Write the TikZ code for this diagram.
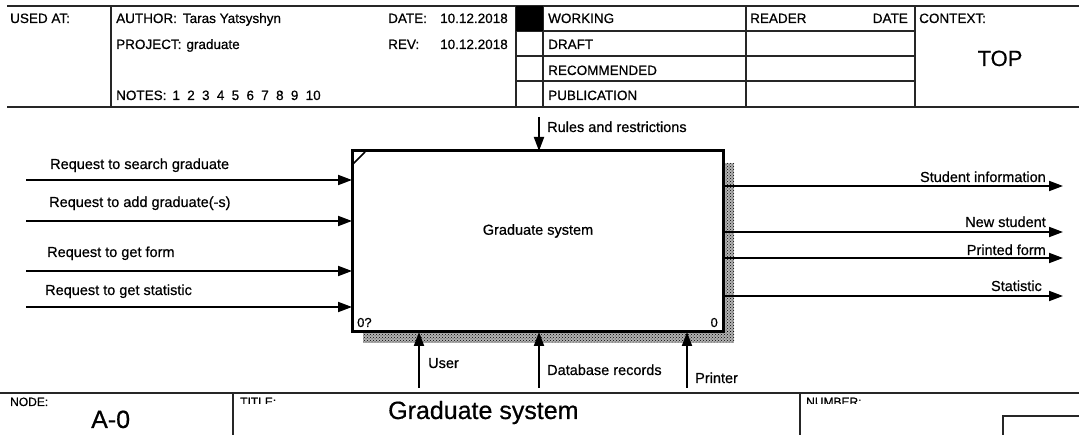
\documentclass[tikz,border=0pt]{standalone}
\usepackage{fontspec}
\setmainfont{Liberation Sans}[FakeBold=0.6]
\usetikzlibrary{arrows.meta,patterns}
\begin{document}
\begin{tikzpicture}[x=1pt,y=-1pt,
  frame/.style={line width=1.7pt, draw=black!85},
  ftext/.style={anchor=base west, inner sep=0, font=\fontsize{13.5}{16}\selectfont},
  fright/.style={anchor=base east, inner sep=0, font=\fontsize{13.5}{16}\selectfont},
  small/.style={anchor=base west, inner sep=0, font=\fontsize{12}{13}\selectfont},
  lbl/.style={anchor=base west, inner sep=0, font=\fontsize{14.5}{17}\selectfont},
  rlbl/.style={anchor=base east, inner sep=0, font=\fontsize{14.5}{17}\selectfont},
  big/.style={anchor=base west, inner sep=0, font=\fontsize{25}{28}\selectfont},
  arr/.style={line width=1.9pt, -{Triangle[length=14pt,width=10pt]}},
  shadow/.style={fill=gray!60, postaction={pattern=crosshatch dots, pattern color=black}},
  boxstyle/.style={draw, line width=3pt, fill=white, minimum width=371pt, minimum height=181pt, inner sep=0, outer sep=0}
]
\useasboundingbox (0,0) rectangle (1079,435);

% ---------- top frame ----------
\draw[frame] (7,6) -- (1079,6);
\draw[frame] (7,107) -- (1079,107);
\foreach \x in {111,516,543,746,915} \draw[frame] (\x,6) -- (\x,107);
\foreach \y in {31,56,81} \draw[frame] (516,\y) -- (915,\y);
\fill (516,6) rectangle (543,31);

\node[ftext] (usedat) at (10,23) {USED AT:};
\node[ftext] (author) at (116,23) {AUTHOR:\hspace{6pt}Taras Yatsyshyn};
\node[ftext] (project) at (116,49) {PROJECT:\hspace{5pt}graduate};
\node[ftext] (notes) at (116,100) {NOTES:\hspace{6pt}1\hspace{7.3pt}2\hspace{7.3pt}3\hspace{7.3pt}4\hspace{7.3pt}5\hspace{7.3pt}6\hspace{7.3pt}7\hspace{7.3pt}8\hspace{7.3pt}9\hspace{7.3pt}10};
\node[ftext] (datel) at (388,23) {DATE:};
\node[ftext] (datev) at (440,23) {10.12.2018};
\node[ftext] (revl) at (388,49) {REV:};
\node[ftext] (revv) at (440,49) {10.12.2018};
\node[ftext] (working) at (548,23) {WORKING};
\node[ftext] (draft) at (548,49) {DRAFT};
\node[ftext] (recommended) at (548,75) {RECOMMENDED};
\node[ftext] (publication) at (548,100) {PUBLICATION};
\node[ftext] (reader) at (750,23) {READER};
\node[fright] (rdate) at (908,23) {DATE};
\node[ftext] (context) at (919,23) {CONTEXT:};
\node[anchor=base, inner sep=0, font=\fontsize{22}{26}\selectfont] (top) at (1000,66) {TOP};

% ---------- box ----------
\path[shadow] (723,163) rectangle (734,343);
\path[shadow] (363,332) rectangle (734,343);
\node[boxstyle] (box) at (537.5,241.5) {};
\draw[line width=1.5pt] (353,164) -- (365,152);
\node[anchor=center, inner sep=0, font=\fontsize{14.5}{17}\selectfont] (boxlabel) at (538,231) {Graduate system};
\node[anchor=base west, inner sep=0, font=\fontsize{13}{15}\selectfont] (cnum) at (357,327) {0?};
\node[anchor=base east, inner sep=0, font=\fontsize{13}{15}\selectfont] (nnum) at (718,327) {0};

% ---------- inputs ----------
\coordinate (i1) at (26,180);
\coordinate (i2) at (26,221);
\coordinate (i3) at (26,271);
\coordinate (i4) at (26,307);
\foreach \i in {i1,i2,i3,i4} \draw[arr] (\i) -- (box.west |- \i);
\node[lbl] (li1) at (50,169) {Request to search graduate};
\node[lbl] (li2) at (49,207) {Request to add graduate(-s)};
\node[lbl] (li3) at (47,257) {Request to get form};
\node[lbl] (li4) at (45,295) {Request to get statistic};

% ---------- control ----------
\coordinate (c1) at (539,117);
\draw[arr] (c1) -- (c1 |- box.north);
\node[lbl] (lc1) at (547,132) {Rules and restrictions};

% ---------- mechanisms ----------
\coordinate (m1) at (419,388);
\coordinate (m2) at (539,388);
\coordinate (m3) at (687,388);
\foreach \m in {m1,m2,m3} \draw[arr] (\m) -- (\m |- box.south);
\node[lbl] (lm1) at (428,368) {User};
\node[lbl] (lm2) at (547,375) {Database records};
\node[lbl] (lm3) at (695,383) {Printer};

% ---------- outputs ----------
\coordinate (o1) at (1063,186);
\coordinate (o2) at (1063,232);
\coordinate (o3) at (1063,258);
\coordinate (o4) at (1063,296);
\foreach \o in {o1,o2,o3,o4} \draw[arr] (box.east |- \o) -- (\o);
\node[rlbl] (lo1) at (1046,182) {Student information};
\node[rlbl] (lo2) at (1046,227) {New student};
\node[rlbl] (lo3) at (1046,255) {Printed form};
\node[rlbl] (lo4) at (1042,291) {Statistic};

% ---------- bottom frame ----------
\draw[frame] (0,393) -- (1079,393);
\draw[frame] (233,393) -- (233,435);
\draw[frame] (800,393) -- (800,435);
\draw[frame] (1003,435) -- (1003,416) -- (1079,416);
\node[small] (nodel) at (10,406) {NODE:};
\begin{scope}
  \clip (230,395) rectangle (1079,404);
  \node[small] (titlel) at (240,406) {TITLE:};
  \node[small] (numberl) at (806,406) {NUMBER:};
\end{scope}
\node[big] (nodeid) at (91,428) {A-0};
\node[big] (title) at (388,419) {Graduate system};
\end{tikzpicture}
\end{document}
